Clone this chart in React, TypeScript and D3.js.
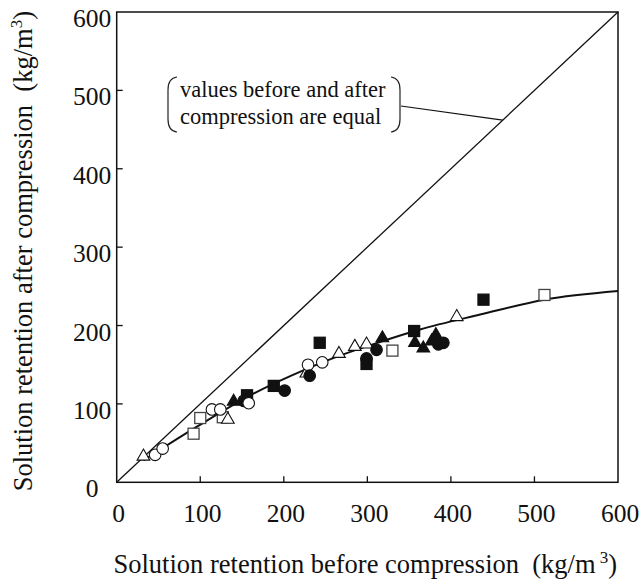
import * as d3 from "d3";

// readings (kg/m3): [before, after]
const openTriangles = [[32, 33], [133, 80], [227, 139], [266, 164], [285, 173], [299, 176], [407, 211]];
const filledTriangles = [[140, 103], [318, 184], [357, 178], [367, 171], [377, 180], [382, 188]];
const openCircles = [[46, 35], [55, 43], [114, 93], [124, 93], [229, 150], [246, 153]];
const filledCircles = [[152, 104], [201, 117], [231, 136], [299, 158], [311, 169], [385, 176], [391, 178]];
const openSquares = [[92, 62], [100, 82], [127, 83], [330, 168], [512, 239]];
const filledSquares = [[156, 111], [188, 123], [243, 178], [299, 151], [356, 193], [439, 233]];
const lateOpenCircles = [[158, 101]];

// fitted curve, read at a few points
const fitX = [32, 96, 160, 211, 263, 315, 363, 435, 512, 600];
const fitY = [28, 71, 111, 137, 160, 179, 195, 214, 233, 244];

const ticks = [0, 100, 200, 300, 400, 500, 600];

const FONT = "Liberation Serif, DejaVu Serif, Times New Roman, serif";

export default function App() {
  const width = 643;
  const height = 584;
  const x = d3.scaleLinear().domain([0, 600]).range([116.7, 618]);
  const y = d3.scaleLinear().domain([0, 600]).range([482.3, 12]);

  const fitLine = d3
    .line<number>()
    .x((d, i) => x(fitX[i]))
    .y((d) => y(d))
    .curve(d3.curveMonotoneX)(fitY);

  const tri = d3.symbol().type(d3.symbolTriangle).size(70)();
  const sq = 11;
  const r = 5.8;
  const txt = { fontFamily: FONT };

  const square = (d: number[], filled: boolean, k: string) => (
    <rect
      key={k}
      x={x(d[0]) - sq / 2}
      y={y(d[1]) - sq / 2}
      width={sq}
      height={sq}
      fill={filled ? "#111" : "#fff"}
      stroke={filled ? "#111" : "#444"}
      strokeWidth={1.3}
    />
  );
  const circle = (d: number[], filled: boolean, k: string) => (
    <circle
      key={k}
      cx={x(d[0])}
      cy={y(d[1])}
      r={r}
      fill={filled ? "#111" : "#fff"}
      stroke="#111"
      strokeWidth={1.1}
    />
  );
  const triangle = (d: number[], filled: boolean, k: string) => (
    <path
      key={k}
      d={tri as string}
      transform={`translate(${x(d[0])},${y(d[1])})`}
      fill={filled ? "#111" : "#fff"}
      stroke="#111"
      strokeWidth={1.1}
    />
  );

  return (
    <svg
      width={width}
      height={height}
      style={{ position: "absolute", left: 0, top: 0, background: "#fff", fontFamily: FONT }}
    >
      {/* frame */}
      <rect x={x(0)} y={y(600)} width={x(600) - x(0)} height={y(0) - y(600)} fill="none" stroke="#111" strokeWidth={1.5} />

      {/* ticks, pointing inward */}
      {ticks.slice(1, -1).map((t) => (
        <g key={"t" + t}>
          <line x1={x(t)} x2={x(t)} y1={y(0)} y2={y(0) - 6} stroke="#111" strokeWidth={1.3} />
          <line x1={x(0)} x2={x(0) + 6} y1={y(t)} y2={y(t)} stroke="#111" strokeWidth={1.3} />
        </g>
      ))}
      {ticks.map((t) => (
        <text key={"xl" + t} style={txt} x={x(t) + 2} y={522} textAnchor="middle" fontSize={25.5} fill="#111">
          {t}
        </text>
      ))}
      {ticks.map((t) => (
        <text key={"yl" + t} style={txt} x={92} y={y(t) + 15} textAnchor="middle" fontSize={25.5} fill="#111">
          {t}
        </text>
      ))}

      {/* axis titles */}
      <text style={txt} x={(x(0) + x(600)) / 2 - 2} y={573} textAnchor="middle" fontSize={26.5} fill="#111">
        Solution retention before compression{"\u00a0\u00a0"}(kg/m
        <tspan dy={-10} fontSize={17}>{"\u00a0"}3</tspan>
        <tspan dy={10}>)</tspan>
      </text>
      <text
        style={txt}
        transform={`translate(32,${(y(0) + y(600)) / 2 + 4}) rotate(-90)`}
        textAnchor="middle"
        fontSize={26.5}
        fill="#111"
      >
        Solution retention after compression{"\u00a0\u00a0"}(kg/m
        <tspan dy={-10} fontSize={17}>3</tspan>
        <tspan dy={10}>)</tspan>
      </text>

      {/* equality line and annotation */}
      <line x1={x(0)} y1={y(0)} x2={x(600)} y2={y(600)} stroke="#111" strokeWidth={1.3} />
      <path d="M177,77 Q168,78 168,90 L168,119 Q168,131 177,132" fill="none" stroke="#222" strokeWidth={1.2} />
      <path d="M391,77 Q400,78 400,90 L400,119 Q400,131 391,132" fill="none" stroke="#222" strokeWidth={1.2} />
      <text style={txt} x={180} y={97} fontSize={22.5} fill="#111">values before and after</text>
      <text style={txt} x={180} y={123.5} fontSize={22.5} fill="#111">compression are equal</text>
      <line x1={401} y1={106} x2={x(462)} y2={y(462)} stroke="#111" strokeWidth={1.2} />

      {/* fitted curve */}
      <path d={fitLine ?? ""} fill="none" stroke="#111" strokeWidth={2} />

      {/* markers */}
      {openSquares.map((d, i) => square(d, false, "os" + i))}
      {openTriangles.map((d, i) => triangle(d, false, "ot" + i))}
      {openCircles.map((d, i) => circle(d, false, "oc" + i))}
      {filledSquares.map((d, i) => square(d, true, "fs" + i))}
      {filledCircles.map((d, i) => circle(d, true, "fc" + i))}
      {filledTriangles.map((d, i) => triangle(d, true, "ft" + i))}
      {lateOpenCircles.map((d, i) => circle(d, false, "lc" + i))}
    </svg>
  );
}
